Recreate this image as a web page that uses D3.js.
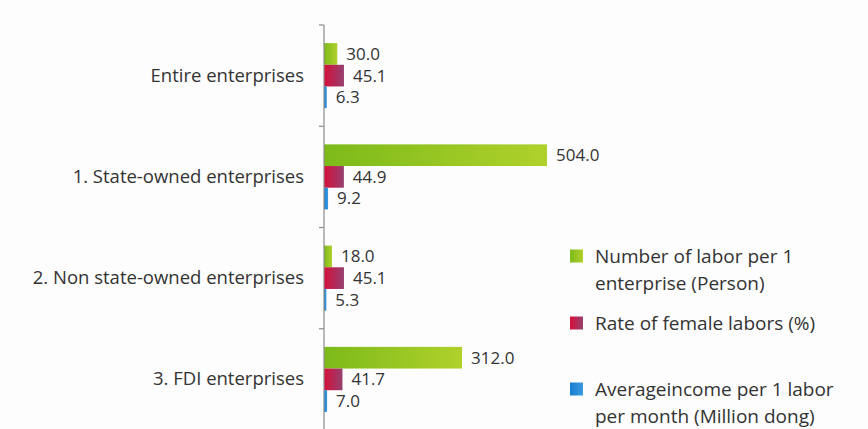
<!DOCTYPE html>
<html>
<head>
<meta charset="utf-8">
<script src="https://cdn.jsdelivr.net/npm/d3@7"></script>
<style>
  html, body { margin: 0; padding: 0; background: #fdfdfd; }
  svg { display: block; }
  text { font-family: "Open Sans", "Noto Sans", sans-serif; fill: #333; }
</style>
</head>
<body>
<svg id="chart" width="868" height="429"></svg>
<script>
// Enterprise groups (top to bottom)
const categories = [
  "Entire enterprises",
  "1. State-owned enterprises",
  "2. Non state-owned enterprises",
  "3. FDI enterprises"
];
// Series
const seriesNames = [
  "Number of labor per 1 enterprise (Person)",
  "Rate of female labors (%)",
  "Averageincome per 1 labor per month (Million dong)"
];
const laborPerEnterprise = [30.0, 504.0, 18.0, 312.0];
const femaleRate = [45.1, 44.9, 45.1, 41.7];
const avgIncome = [6.3, 9.2, 5.3, 7.0];
const legendLines = [
  ["Number of labor per 1", "enterprise (Person)"],
  ["Rate of female labors (%)"],
  ["Averageincome per 1 labor", "per month (Million dong)"]
];

const seriesValues = [laborPerEnterprise, femaleRate, avgIncome];
const seriesKeys = ["labor", "female", "income"];

const svg = d3.select("#chart");
const defs = svg.append("defs");

// Horizontal gradients per series
const gradStops = [
  ["#7cba1a", "#b0d12b"],
  ["#d6103a", "#96406f"],
  ["#1a7fd2", "#3a9ae0"]
];
seriesKeys.forEach((k, i) => {
  const g = defs.append("linearGradient")
    .attr("id", "grad-" + k)
    .attr("x1", "0%").attr("x2", "100%").attr("y1", "0%").attr("y2", "0%");
  g.append("stop").attr("offset", "0%").attr("stop-color", gradStops[i][0]);
  g.append("stop").attr("offset", "100%").attr("stop-color", gradStops[i][1]);
});

const axisX = 324;
const x = d3.scaleLinear().domain([0, 600]).range([axisX, axisX + 600 * 0.4425]);
const y = d3.scaleBand().domain(categories).range([25, 430]).paddingInner(0).paddingOuter(0);
const ySub = d3.scaleBand().domain(seriesKeys).range([0, y.bandwidth()]).paddingInner(0).paddingOuter(0.836);

const rows = categories.map((c, ci) => ({
  category: c,
  values: seriesKeys.map((k, si) => ({ key: k, value: seriesValues[si][ci] }))
}));

const groups = svg.append("g").selectAll("g")
  .data(rows)
  .join("g")
  .attr("transform", d => `translate(0,${y(d.category)})`);

groups.selectAll("rect")
  .data(d => d.values)
  .join("rect")
  .attr("x", x(0))
  .attr("y", d => ySub(d.key))
  .attr("width", d => x(d.value) - x(0))
  .attr("height", ySub.bandwidth())
  .attr("fill", d => `url(#grad-${d.key})`);

groups.selectAll("text.val")
  .data(d => d.values)
  .join("text")
  .attr("class", "val")
  .attr("x", d => x(d.value) + 9)
  .attr("y", d => ySub(d.key) + ySub.bandwidth() / 2)
  .attr("dy", "0.35em")
  .attr("font-size", 17)
  .text(d => d.value.toFixed(1));

// Category axis on the left of the bars
const yAxis = d3.axisLeft(y).tickSize(0).tickPadding(20);
const axisG = svg.append("g")
  .attr("transform", `translate(${axisX},0)`)
  .call(yAxis);
axisG.select(".domain").remove();
axisG.selectAll("text")
  .attr("font-size", 18.5)
  .attr("font-family", "\"Open Sans\", sans-serif")
  .attr("fill", "#333");

// Axis line with boundary ticks between categories
const boundaries = categories.map(c => y(c)).concat([y.range()[1]]);
svg.append("line")
  .attr("x1", axisX).attr("x2", axisX)
  .attr("y1", y.range()[0]).attr("y2", y.range()[1])
  .attr("stroke", "#8c8c8c").attr("stroke-width", 1.2);
svg.append("g").selectAll("line")
  .data(boundaries)
  .join("line")
  .attr("x1", axisX - 5).attr("x2", axisX)
  .attr("y1", d => d).attr("y2", d => d)
  .attr("stroke", "#8c8c8c").attr("stroke-width", 1.2);

// Legend
const legendY = [256, 323, 389];
const legend = svg.append("g").selectAll("g")
  .data(seriesKeys.map((k, i) => ({ key: k, lines: legendLines[i], cy: legendY[i] })))
  .join("g");
legend.append("rect")
  .attr("x", 570)
  .attr("y", d => d.cy - 6.5)
  .attr("width", 13).attr("height", 13)
  .attr("fill", d => `url(#grad-${d.key})`);
legend.append("text")
  .attr("x", 595)
  .attr("y", d => d.cy)
  .attr("font-size", 19)
  .selectAll("tspan")
  .data(d => d.lines)
  .join("tspan")
  .attr("x", 595)
  .attr("dy", (d, i) => i === 0 ? "0.35em" : "27")
  .text(d => d);
</script>
</body>
</html>
